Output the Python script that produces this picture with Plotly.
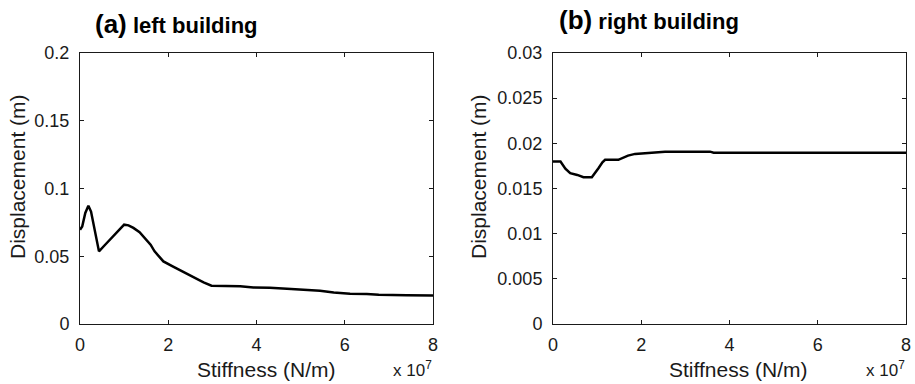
import plotly.graph_objects as go

# Left building: stiffness (x 10^7 N/m) vs displacement (m)
left_stiffness = [0, 0.05, 0.12, 0.19, 0.25, 0.43, 0.57, 0.72, 0.85, 1.0, 1.1, 1.21, 1.35, 1.47,
                  1.6, 1.69, 1.89, 2.1, 2.31, 2.55, 2.80, 2.98, 3.3, 3.63, 3.93, 4.3, 4.69, 5.05,
                  5.44, 5.75, 6.12, 6.5, 6.77, 7.4, 8.0]
left_disp = [0.0696, 0.072, 0.082, 0.0873, 0.083, 0.0536, 0.0585, 0.0635, 0.068, 0.0733, 0.0728,
             0.0709, 0.0678, 0.0635, 0.0585, 0.0536, 0.0462, 0.0425, 0.0388, 0.0348, 0.0307,
             0.0283, 0.0282, 0.0279, 0.0270, 0.0268, 0.0260, 0.0255, 0.0246, 0.0233, 0.0224,
             0.0222, 0.0216, 0.0212, 0.0211]

# Right building
right_stiffness = [0, 0.17, 0.28, 0.39, 0.55, 0.69, 0.88, 0.97, 1.03, 1.12, 1.18, 1.48, 1.58,
                   1.70, 1.86, 2.13, 2.3, 2.54, 3.56, 3.64, 8.0]
right_disp = [0.01798, 0.01798, 0.0172, 0.0167, 0.0165, 0.01625, 0.01625, 0.0168, 0.01725,
              0.0179, 0.01817, 0.01817, 0.0184, 0.01864, 0.01883, 0.0189, 0.0190, 0.01908,
              0.01908, 0.01897, 0.01897]

x_ticks = [0, 2, 4, 6, 8]
left_y_ticks = [0, 0.05, 0.1, 0.15, 0.2]
left_y_labels = ["0", "0.05", "0.1", "0.15", "0.2"]
right_y_ticks = [0, 0.005, 0.01, 0.015, 0.02, 0.025, 0.03]
right_y_labels = ["0", "0.005", "0.01", "0.015", "0.02", "0.025", "0.03"]

FONT = "Liberation Sans, Arial, sans-serif"
W, H = 915, 384

fig = go.Figure()
fig.add_trace(go.Scatter(x=left_stiffness, y=left_disp, mode="lines",
                         line=dict(color="black", width=2.5), xaxis="x", yaxis="y",
                         showlegend=False))
fig.add_trace(go.Scatter(x=right_stiffness, y=right_disp, mode="lines",
                         line=dict(color="black", width=2.5), xaxis="x2", yaxis="y2",
                         showlegend=False))

ax_common = dict(showline=True, linecolor="#1a1a1a", linewidth=1, mirror="allticks",
                 ticks="inside", ticklen=4, tickcolor="#1a1a1a", showgrid=False,
                 zeroline=False, automargin=False,
                 tickfont=dict(family=FONT, size=18, color="#1a1a1a"))

lx0, lx1 = 80 / W, 433 / W
rx0, rx1 = 553 / W, 906 / W
y0, y1 = (H - 324) / H, (H - 53) / H

fig.update_layout(
    width=W, height=H, margin=dict(l=0, r=0, t=0, b=0, autoexpand=False),
    paper_bgcolor="white", plot_bgcolor="white",
    xaxis=dict(domain=[lx0, lx1], range=[0, 8], tickvals=x_ticks, ticklabelstandoff=4,
               anchor="y", **ax_common),
    yaxis=dict(domain=[y0, y1], range=[0, 0.2], tickvals=left_y_ticks, ticktext=left_y_labels,
               ticklabelstandoff=6, anchor="x", **ax_common),
    xaxis2=dict(domain=[rx0, rx1], range=[0, 8], tickvals=x_ticks, ticklabelstandoff=4,
                anchor="y2", **ax_common),
    yaxis2=dict(domain=[y0, y1], range=[0, 0.03], tickvals=right_y_ticks,
                ticktext=right_y_labels, ticklabelstandoff=6, anchor="x2", **ax_common),
)

def px(x, y):
    return x / W, 1 - y / H

annots = []
# Titles
for (x, y, t) in [(93, 41, "<b><span style='font-size:26px'>(a)</span> left building</b>"),
                  (557, 37, "<b><span style='font-size:26px'>(b)</span> right building</b>")]:
    ax_, ay_ = px(x, y)
    annots.append(dict(x=ax_, y=ay_, xref="paper", yref="paper", text=t, showarrow=False,
                       xanchor="left", yanchor="bottom", font=dict(family=FONT, size=22, color="black")))
# X titles
for cx in [266, 738]:
    ax_, ay_ = px(cx, 369)
    annots.append(dict(x=ax_, y=ay_, xref="paper", yref="paper", text="Stiffness (N/m)",
                       showarrow=False, xanchor="center", yanchor="middle",
                       font=dict(family=FONT, size=21, color="#1a1a1a")))
# Y titles
for cx in [17, 478]:
    ax_, ay_ = px(cx, 177)
    annots.append(dict(x=ax_, y=ay_, xref="paper", yref="paper", text="Displacement (m)",
                       showarrow=False, xanchor="center", yanchor="middle", textangle=-90,
                       font=dict(family=FONT, size=21, color="#1a1a1a")))
# Exponent
for rx in [434, 907]:
    ax_, ay_ = px(rx, 382)
    annots.append(dict(x=ax_, y=ay_, xref="paper", yref="paper", text="x 10<sup>7</sup>",
                       showarrow=False, xanchor="right", yanchor="bottom",
                       font=dict(family=FONT, size=17, color="#1a1a1a")))
fig.update_layout(annotations=annots)

fig.write_html("out.html", config={"displayModeBar": False},
               post_script="document.body.style.margin='0';")
